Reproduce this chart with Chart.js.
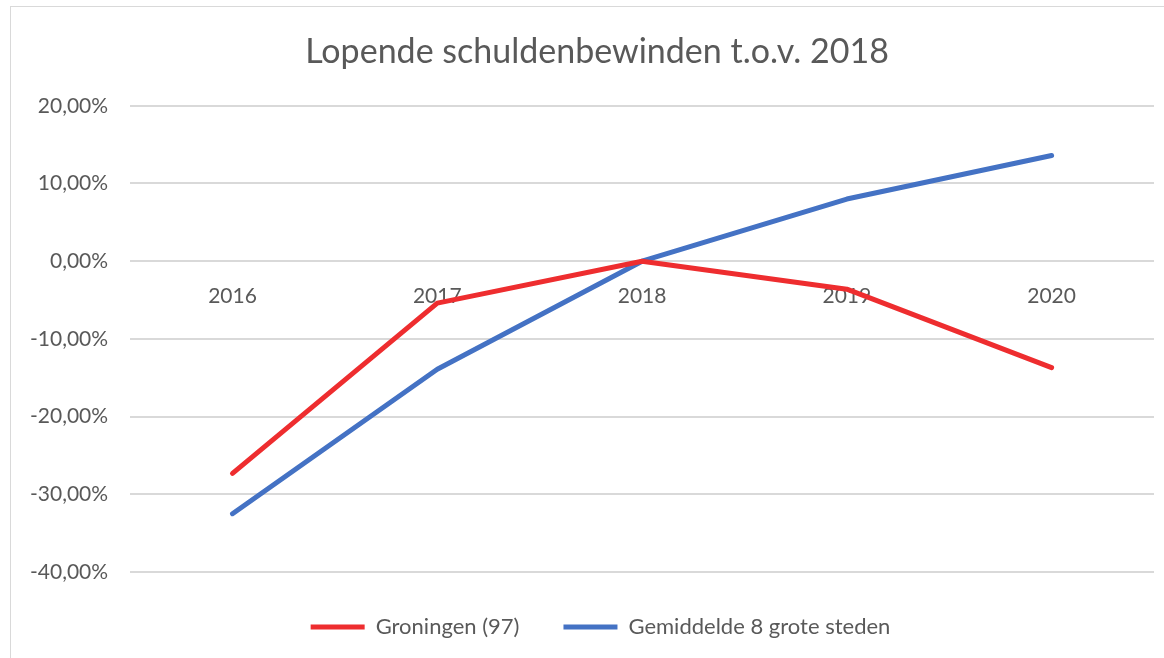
<!DOCTYPE html>
<html>
<head>
<meta charset="utf-8">
<script src="https://cdn.jsdelivr.net/npm/chart.js@4"></script>
<style>
  html, body { margin: 0; padding: 0; background: #fff; }
  #wrap { position: absolute; left: 0; top: 0; width: 1164px; height: 658px; }
  #frame { position: absolute; left: 10px; top: 6px; width: 1170px; height: 670px; border: 1.5px solid #d9d9d9; box-sizing: border-box; }
  canvas { position: absolute; left: 0; top: 0; }
</style>
</head>
<body>
<div id="wrap">
  <div id="frame"></div>
  <canvas id="c" width="1164" height="658"></canvas>
</div>
<script>
const categories = ['2016', '2017', '2018', '2019', '2020'];
const groningen = [-27.3, -5.4, 0, -3.6, -13.7];
const gemiddelde = [-32.5, -13.9, 0, 8.0, 13.6];
const seriesNames = ['Groningen (97)', 'Gemiddelde 8 grote steden'];
const titleText = 'Lopende schuldenbewinden t.o.v. 2018';

const FONT = 'Lato, "Open Sans", sans-serif';
const GRAY = '#595959';

// The original chart frame is wider than the picture, so its title and
// legend are centred a little to the right of the canvas centre.
const centreShift = {
  id: 'centreShift',
  afterLayout(chart) {
    if (chart.titleBlock) chart.titleBlock.left += 32;
    if (chart.legend) chart.legend.left += 39;
  }
};

new Chart(document.getElementById('c'), {
  type: 'line',
  data: {
    labels: categories,
    datasets: [
      {
        label: seriesNames[0],
        data: groningen,
        borderColor: '#EE2D2F',
        backgroundColor: '#EE2D2F',
        borderWidth: 5,
        borderCapStyle: 'round',
        borderJoinStyle: 'round',
        pointRadius: 0,
        tension: 0
      },
      {
        label: seriesNames[1],
        data: gemiddelde,
        borderColor: '#4472C4',
        backgroundColor: '#4472C4',
        borderWidth: 5,
        borderCapStyle: 'round',
        borderJoinStyle: 'round',
        pointRadius: 0,
        tension: 0
      }
    ]
  },
  options: {
    responsive: false,
    animation: false,
    layout: { padding: { left: 8, right: 10, top: 14, bottom: 10 } },
    plugins: {
      title: {
        display: true,
        text: titleText,
        color: GRAY,
        font: { family: FONT, size: 34, weight: 'normal' },
        padding: { top: 18, bottom: 33 }
      },
      legend: {
        display: true,
        position: 'bottom',
        labels: {
          color: GRAY,
          font: { family: FONT, size: 22 },
          usePointStyle: true,
          pointStyle: 'line',
          pointStyleWidth: 54,
          boxHeight: 22,
          padding: 44
        }
      },
      tooltip: { enabled: false }
    },
    scales: {
      x: {
        type: 'category',
        position: { y: 0 },
        offset: true,
        grid: { display: false, drawTicks: false },
        border: { display: false },
        ticks: {
          color: GRAY,
          font: { family: FONT, size: 21 },
          padding: 22
        }
      },
      y: {
        min: -40,
        max: 20,
        grid: { color: '#d9d9d9', lineWidth: 2, drawTicks: false },
        border: { display: false },
        ticks: {
          stepSize: 10,
          color: GRAY,
          font: { family: FONT, size: 21 },
          padding: 22,
          callback: v => v.toFixed(2).replace('.', ',') + '%'
        }
      }
    }
  },
  plugins: [centreShift]
});
</script>
</body>
</html>
